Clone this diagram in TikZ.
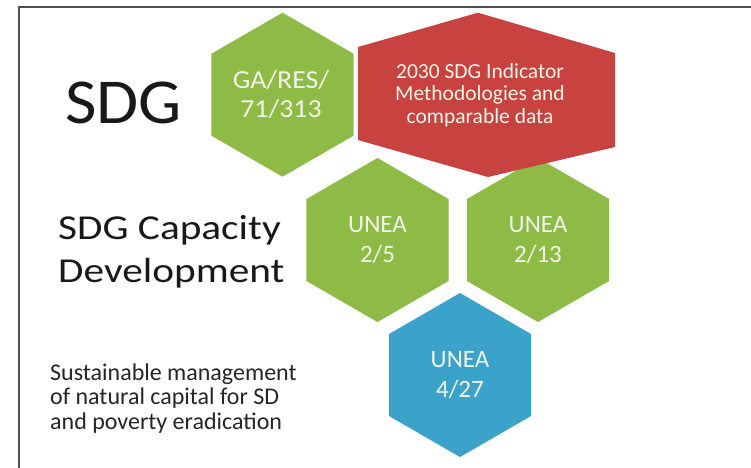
\documentclass[tikz,border=0pt]{standalone}
\usepackage{fontspec}
\setmainfont{Carlito}
\definecolor{hexgreen}{HTML}{8DBB46}
\definecolor{hexred}{HTML}{C8423F}
\definecolor{hexblue}{HTML}{3BA2C9}
\definecolor{hextext}{HTML}{F2F5E8}
\definecolor{framegray}{HTML}{505050}
\begin{document}
\begin{tikzpicture}[x=1pt,y=-1pt,
  hexlabel/.style={text=hextext, align=center, inner sep=0pt},
  sidelabel/.style={text=black!90, align=left, anchor=west, inner sep=0pt}]
\useasboundingbox (0,0) rectangle (751,467);
\fill[white] (0,0) rectangle (751,467);
\draw[framegray, line width=1.6pt] (19,468) -- (19,7) -- (752,7);

% hexagon centres
\coordinate (gac) at (282.5,94.7);
\coordinate (u5c) at (377.5,240);
\coordinate (u13c) at (538,240);
\coordinate (u27c) at (460,375);

\foreach \c/\col in {gac/hexgreen, u5c/hexgreen, u13c/hexgreen, u27c/hexblue}{
  \fill[\col] (\c) +(90:82) -- +(30:82) -- +(-30:82) -- +(-90:82) -- +(-150:82) -- +(150:82) -- cycle;
}
\fill[hexred] (478,12.7) -- (615,53) -- (615,147) -- (488,177) -- (358,140) -- (358,47) -- cycle;

% hexagon labels
\begin{scope}[shift={(281,94.7)}, xscale=1.07, transform shape]
\node[hexlabel, font=\fontsize{26}{29.5}\selectfont] (ga) at (0,0) {GA/RES/\\71/313};
\end{scope}
\node[hexlabel, font=\fontsize{21.5}{22.5}\selectfont] (ind) at (480,95) {2030 SDG Indicator\\Methodologies and\\comparable data};
\node[hexlabel, font=\fontsize{25}{30}\selectfont] (u5) at (u5c) {UNEA\\2/5};
\node[hexlabel, font=\fontsize{25}{30}\selectfont] (u13) at (u13c) {UNEA\\2/13};
\node[hexlabel, font=\fontsize{25}{30}\selectfont] (u27) at (u27c) {UNEA\\4/27};

% side labels
\begin{scope}[shift={(65,102.5)}, xscale=1.07, transform shape]
\node[sidelabel, font=\fontsize{64}{64}\selectfont] (sdg) at (0,0) {SDG};
\end{scope}
\begin{scope}[shift={(58,252)}, xscale=1.18, transform shape]
\node[sidelabel, font=\fontsize{35}{43.3}\selectfont] (cap) at (0,0) {SDG Capacity\\Development};
\end{scope}
\node[sidelabel, font=\fontsize{24}{24.5}\selectfont, text=black!85] (nat) at (50,398.5) {Sustainable management\\of natural capital for SD\\and poverty eradication};
\end{tikzpicture}
\end{document}
